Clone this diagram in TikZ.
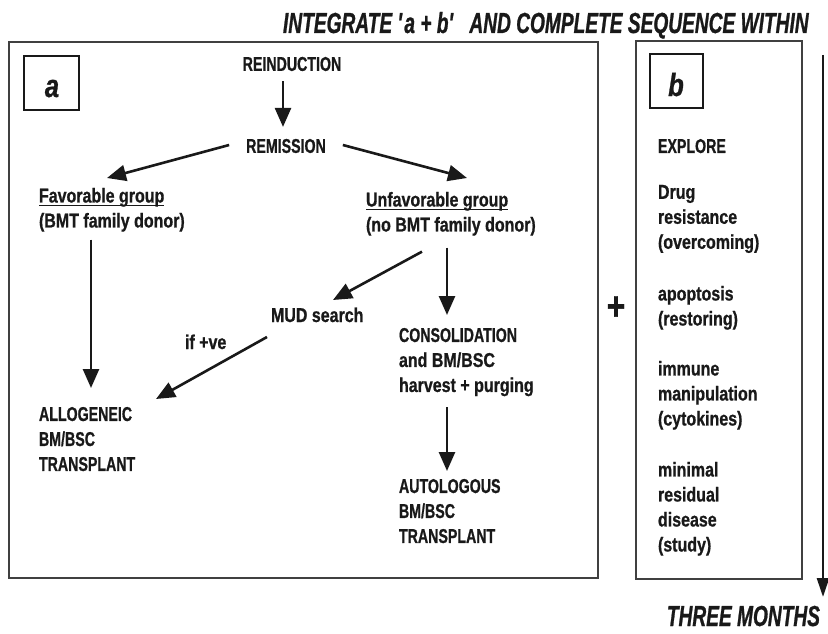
\documentclass[tikz,border=0pt]{standalone}
\usepackage{fontspec}
\setmainfont{Liberation Sans}[FakeStretch=0.8, BoldFeatures={FakeBold=0.8}]
\newfontfamily\capf{Liberation Sans}[FakeStretch=0.71, BoldFeatures={FakeBold=0.8}]
\newfontfamily\hdrf{Liberation Sans}[FakeStretch=0.66, BoldItalicFeatures={FakeBold=0.8}]
\newfontfamily\labf{Liberation Sans}[FakeStretch=0.8, BoldItalicFeatures={FakeBold=0.8}]
\usetikzlibrary{arrows.meta,calc}
\newcommand\myul[1]{\setbox0\hbox{#1}\rlap{\rule[-3.3pt]{\wd0}{1.2pt}}\box0}
\lineskiplimit=-100pt
\begin{document}
\begin{tikzpicture}[x=1pt,y=-1pt,
  txt/.style={inner sep=0pt, outer sep=0pt, text=black!90, align=left,
    font=\bfseries\fontsize{20}{25}\selectfont},
  captxt/.style={txt, font=\capf\bfseries\fontsize{20}{25}\selectfont},
  hdr/.style={inner sep=0pt, outer sep=0pt, text=black!90,
    font=\hdrf\bfseries\itshape\fontsize{29}{30}\selectfont},
  labtxt/.style={inner sep=0pt, outer sep=0pt, text=black!90,
    font=\labf\bfseries\itshape\fontsize{32}{32}\selectfont},
  frame/.style={draw=black!75, line width=1.6pt, inner sep=0pt},
  labbox/.style={draw=black!90, line width=2.2pt, inner sep=0pt},
  arr/.style={draw=black!90, line width=2.6pt, -{Triangle[length=19pt,width=16pt]}}
]
\useasboundingbox (0,0) rectangle (828,634);

% header
\node[hdr, anchor=base west] (title) at (283,33)
  {INTEGRATE \textquotesingle a + b\textquotesingle\hspace{14pt}AND COMPLETE SEQUENCE WITHIN};

% frames
\node[frame, minimum width=589pt, minimum height=536pt] (boxa) at (303.5,310) {};
\node[frame, minimum width=166pt, minimum height=538pt] (boxb) at (719,310) {};
\node[labbox, minimum width=55pt, minimum height=54pt] (labboxa) at (51.5,83) {};
\node[labbox, minimum width=53pt, minimum height=54pt] (labboxb) at (676.5,81) {};
\node[labtxt, anchor=base] (la) at (52,97) {a};
\node[labtxt, anchor=base] (lb) at (676,96) {b};

% box a contents
\node[captxt] (reind) at (292,64) {REINDUCTION};
\node[captxt] (remis) at (286,146) {REMISSION};
\node[txt, anchor=north west] (fav) at (39,188) {\myul{Favorable group}\\(BMT family donor)};
\node[txt, anchor=north west] (unfav) at (366,192) {\myul{Unfavorable group}\\(no BMT family donor)};
\node[txt, anchor=base west] (mud) at (271,322) {MUD search};
\node[txt, anchor=base west] (ifve) at (185,349) {if +ve};
\node[txt, anchor=north west] (consol) at (399,328) {{\capf CONSOLIDATION}\\and BM/BSC\\harvest + purging};
\node[captxt, anchor=north west] (autol) at (399,479) {AUTOLOGOUS\\BM/BSC\\TRANSPLANT};
\node[captxt, anchor=north west] (allo) at (39,407) {ALLOGENEIC\\BM/BSC\\TRANSPLANT};

\draw[arr] ($(reind.south)+(-9,10)$) -- ($(remis.north)+(-3,-12)$);
\draw[arr] ($(remis.west)+(-17,-1)$) -- ($(fav.north west)+(68,-10)$);
\draw[arr] ($(remis.east)+(17,-1)$) -- ($(unfav.north west)+(101,-14)$);
\draw[arr] ($(fav.south west)+(52,8)$) -- ($(allo.north west)+(52,-19)$);
\draw[arr] ($(unfav.south west)+(56,16)$) -- ($(mud.base west)+(62,-22)$);
\draw[arr] ($(unfav.south west)+(81,12)$) -- ($(consol.north west)+(48,-13)$);
\draw[arr] ($(mud.base west)+(-4,15)$) -- ($(allo.north west)+(117,-8)$);
\draw[arr] ($(consol.south west)+(48,11)$) -- ($(autol.north west)+(48,-8)$);

% plus
\node[inner sep=0pt, text=black!90, font=\bfseries\fontsize{40}{40}\selectfont] (plus) at (616,308) {+};

% box b contents
\node[captxt, anchor=base west] (explore) at (658,153) {EXPLORE};
\node[txt, anchor=north west] (drug) at (658,185) {Drug\\resistance\\(overcoming)};
\node[txt, anchor=north west] (apop) at (658,286) {apoptosis\\(restoring)};
\node[txt, anchor=north west] (immune) at (658,361) {immune\\manipulation\\(cytokines)};
\node[txt, anchor=north west] (minimal) at (658,462) {minimal\\residual\\disease\\(study)};

% time arrow
\coordinate (vtop) at (823,55);
\coordinate (vbot) at (823,597);
\draw[draw=black!90, line width=2.6pt, -{Triangle[length=19pt,width=12pt]}] (vtop) -- (vbot);
\node[hdr, anchor=base east] (months) at (820,626) {THREE MONTHS};
\end{tikzpicture}
\end{document}
